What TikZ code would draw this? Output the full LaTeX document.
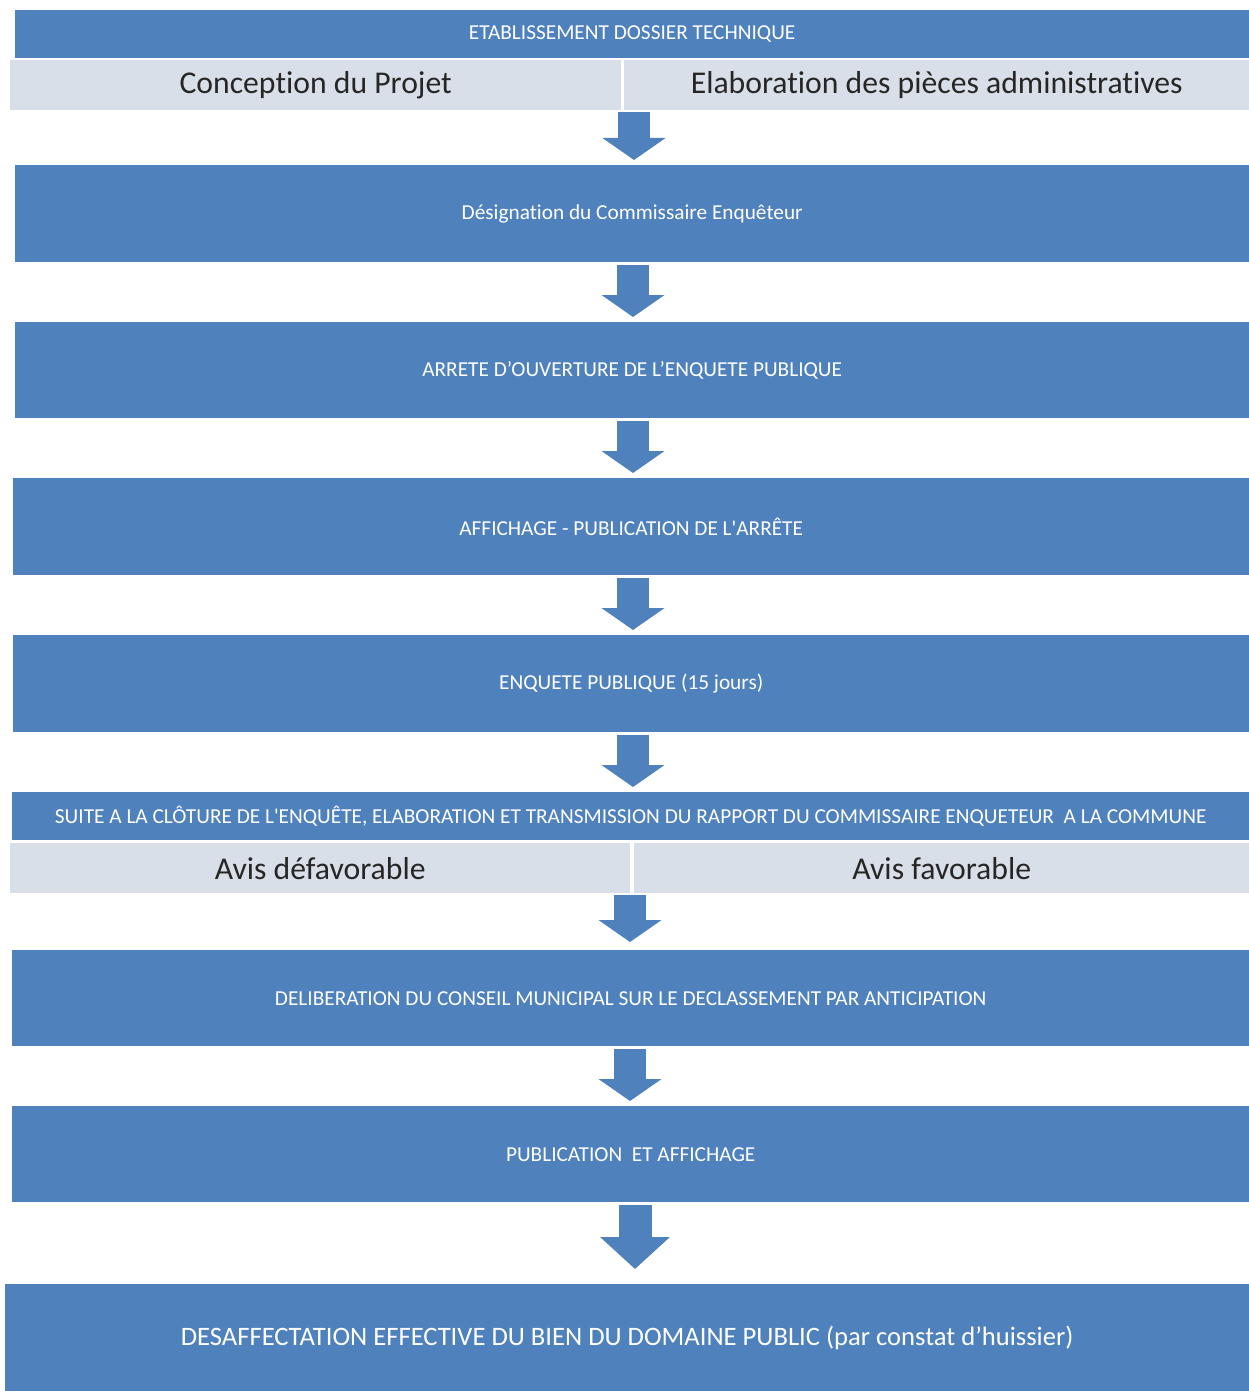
\documentclass[tikz,border=0pt]{standalone}
\usepackage{fontspec}
\setmainfont{Carlito}[Ligatures=NoCommon]
\usetikzlibrary{arrows.meta}
\definecolor{myblue}{RGB}{79,129,189}
\definecolor{mygrey}{RGB}{217,223,232}
\definecolor{mytext}{RGB}{38,38,38}
\newcommand{\lowertxt}[1]{\raisebox{-2pt}{#1}}
\tikzset{
  band/.style={fill=myblue, text=white, font=\fontsize{21.3}{24}\selectfont, inner sep=0pt, anchor=north west, minimum width=1234pt},
  subband/.style={fill=mygrey, text=mytext, font=\fontsize{31.7}{36}\selectfont, inner sep=0pt, anchor=north west, minimum height=50pt},
  flow/.style={draw=myblue, line width=32pt, -{Triangle[width=62pt,length=22pt]}, shorten <=3pt, shorten >=5pt},
  bigflow/.style={draw=myblue, line width=33pt, -{Triangle[width=68pt,length=32pt]}, shorten <=3pt, shorten >=15pt}
}
\begin{document}
\begin{tikzpicture}[x=1pt,y=-1pt]
\useasboundingbox (0,0) rectangle (1249,1391);
\fill[white] (0,0) rectangle (1249,1391);
\node[band, minimum height=48pt] (b1) at (15,10) {\lowertxt{ETABLISSEMENT DOSSIER TECHNIQUE}};
\node[subband, minimum width=611pt] (g1L) at (10,60) {\lowertxt{Conception du Projet}};
\node[subband, minimum width=625pt] (g1R) at (624,60) {\lowertxt{Elaboration des pièces administratives}};
\node[band, minimum height=97pt] (b2) at (15,165) {Désignation du Commissaire Enquêteur};
\node[band, minimum height=96pt] (b3) at (15,322) {ARRETE D’OUVERTURE DE L’ENQUETE PUBLIQUE};
\node[band, minimum height=97pt, minimum width=1236pt] (b4) at (13,478) {AFFICHAGE - PUBLICATION DE L\textquotesingle ARRÊTE};
\node[band, minimum height=97pt, minimum width=1236pt] (b5) at (13,635) {ENQUETE PUBLIQUE (15 jours)};
\node[band, minimum height=48pt, minimum width=1237pt] (b6) at (12,792) {SUITE A LA CLÔTURE DE L\textquotesingle ENQUÊTE, ELABORATION ET TRANSMISSION DU RAPPORT DU COMMISSAIRE ENQUETEUR\ \ A LA COMMUNE};
\node[subband, minimum width=620pt] (g2L) at (10,843) {Avis défavorable};
\node[subband, minimum width=615pt] (g2R) at (634,843) {Avis favorable};
\node[band, minimum height=96pt, minimum width=1237pt] (b7) at (12,950) {DELIBERATION DU CONSEIL MUNICIPAL SUR LE DECLASSEMENT PAR ANTICIPATION};
\node[band, minimum height=96pt, minimum width=1237pt] (b8) at (12,1106) {PUBLICATION\ \ ET AFFICHAGE};
\node[band, minimum height=107pt, minimum width=1244pt, font=\fontsize{26.6}{30}\selectfont] (b9) at (5,1284) {DESAFFECTATION EFFECTIVE DU BIEN DU DOMAINE PUBLIC (par constat d’huissier)};
\coordinate (s1) at (634,110);
\coordinate (s2) at (633,262);
\coordinate (s3) at (633,418);
\coordinate (s4) at (633,575);
\coordinate (s5) at (633,732);
\coordinate (s6) at (630,893);
\coordinate (s7) at (630,1046);
\coordinate (s8) at (635,1202);
\draw[flow, shorten <=2pt] (s1 |- g1L.south) -- (s1 |- b2.north);
\draw[flow] (s2 |- b2.south) -- (s2 |- b3.north);
\draw[flow] (s3 |- b3.south) -- (s3 |- b4.north);
\draw[flow] (s4 |- b4.south) -- (s4 |- b5.north);
\draw[flow] (s5 |- b5.south) -- (s5 |- b6.north);
\draw[flow, shorten <=2pt, shorten >=8pt] (s6 |- g2L.south) -- (s6 |- b7.north);
\draw[flow] (s7 |- b7.south) -- (s7 |- b8.north);
\draw[bigflow] (s8 |- b8.south) -- (s8 |- b9.north);
\end{tikzpicture}
\end{document}
